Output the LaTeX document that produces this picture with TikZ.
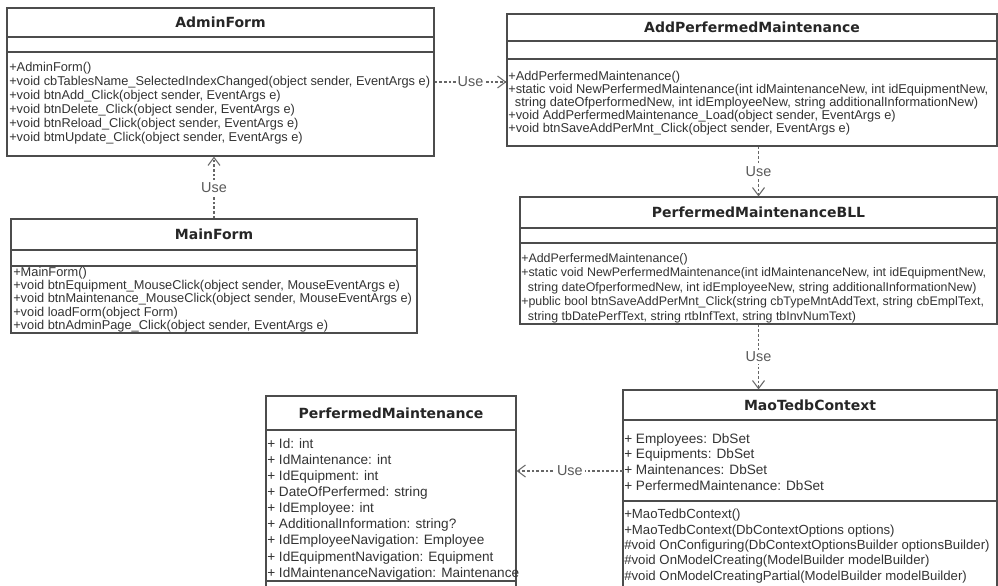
\documentclass[tikz,border=0pt]{standalone}
\usepackage{fontspec}
\setmainfont{Liberation Sans}
\newfontfamily\ttlfont{DejaVu Sans}
\usetikzlibrary{positioning,arrows.meta,fit}

\begin{document}
\begin{tikzpicture}[x=0.75pt,y=-0.75pt,>={Straight Barb[length=6pt,width=9pt]},
 box/.style={draw=black!70,line width=0.9pt,inner sep=0pt},
 ttl/.style={font=\ttlfont\bfseries\fontsize{10.5}{12}\selectfont,text=black!85},
 ops/.style={anchor=north west,align=left,inner sep=0pt,text=black!80,font=\fontsize{9.6}{#1}\selectfont},
 ops/.default=10.5,
 atr/.style={anchor=north west,align=left,inner sep=0pt,text=black!80,font=\fontsize{10.2}{#1}\selectfont},
 use/.style={->,dash pattern=on 2pt off 1.5pt,draw=black!60,line width=0.8pt},
 lbl/.style={fill=white,inner sep=1.5pt,font=\fontsize{10.8}{12}\selectfont,text=black!65}]
\clip (0,0) rectangle (998,585);
\newcommand{\UMLbox}[8]{%
 \node[box,fit={(#2,#3) (#4,#5)}] (#1) {};
 \node[ttl] (#1-t) at ({(#2+#4)/2},{(#3+#6)/2}) {#8};
 \draw[black!70,line width=0.9pt] (#2,#6) -- (#4,#6) (#2,#7) -- (#4,#7);}
% forms
\UMLbox{admin}{7}{8}{434}{156}{37}{52}{AdminForm}
\node[ops] (admin-m) at (9,62) {+AdminForm()\\
 +void cbTablesName\_SelectedIndexChanged(object sender, EventArgs e)\\
 +void btnAdd\_Click(object sender, EventArgs e)\\
 +void btnDelete\_Click(object sender, EventArgs e)\\
 +void btnReload\_Click(object sender, EventArgs e)\\
 +void btmUpdate\_Click(object sender, EventArgs e)};
\UMLbox{mainf}{11}{219}{417}{333}{250}{266}{MainForm}
\node[ops=9.9] (mainf-m) at (13,267) {+MainForm()\\
 +void btnEquipment\_MouseClick(object sender, MouseEventArgs e)\\
 +void btnMaintenance\_MouseClick(object sender, MouseEventArgs e)\\
 +void loadForm(object Form)\\
 +void btnAdminPage\_Click(object sender, EventArgs e)};
\UMLbox{addpm}{507}{14}{997}{146}{41}{59}{AddPerfermedMaintenance}
\node[ops=9.75] (addpm-m) at (508,71) {+AddPerfermedMaintenance()\\
 +static void NewPerfermedMaintenance(int idMaintenanceNew, int idEquipmentNew,\\
 \hspace*{5pt}string dateOfperformedNew, int idEmployeeNew, string additionalInformationNew)\\
 +void AddPerfermedMaintenance\_Load(object sender, EventArgs e)\\
 +void btnSaveAddPerMnt\_Click(object sender, EventArgs e)};
% logic + data
\UMLbox{bll}{520}{197}{997}{324}{228}{243}{PerfermedMaintenanceBLL}
\node[ops=10.9,font=\fontsize{9.3}{10.9}\selectfont] (bll-m) at (521,253) {+AddPerfermedMaintenance()\\
 +static void NewPerfermedMaintenance(int idMaintenanceNew, int idEquipmentNew,\\
 \hspace*{5pt}string dateOfperformedNew, int idEmployeeNew, string additionalInformationNew)\\
 +public bool btnSaveAddPerMnt\_Click(string cbTypeMntAddText, string cbEmplText,\\
 \hspace*{5pt}string tbDatePerfText, string rtbInfText, string tbInvNumText)};
\UMLbox{pm}{266}{396}{516}{640}{430}{581}{PerfermedMaintenance}
\node[atr=12.1] (pm-a) at (267,438) {+ Id: int\\
 + IdMaintenance: int\\
 + IdEquipment: int\\
 + DateOfPerfermed: string\\
 + IdEmployee: int\\
 + AdditionalInformation: string?\\
 + IdEmployeeNavigation: Employee\\
 + IdEquipmentNavigation: Equipment\\
 + IdMaintenanceNavigation: Maintenance};
\UMLbox{mao}{623}{390}{997}{640}{420}{501}{MaoTedbContext}
\node[atr=11.8] (mao-a) at (624,433) {+ Employees: DbSet\\
 + Equipments: DbSet\\
 + Maintenances: DbSet\\
 + PerfermedMaintenance: DbSet};
\node[atr=11.5,font=\fontsize{9.9}{11.5}\selectfont] (mao-m) at (624,509) {+MaoTedbContext()\\
 +MaoTedbContext(DbContextOptions options)\\
 \#void OnConfiguring(DbContextOptionsBuilder optionsBuilder)\\
 \#void OnModelCreating(ModelBuilder modelBuilder)\\
 \#void OnModelCreatingPartial(ModelBuilder modelBuilder)};
\coordinate (mao-use) at (623,471);
% dependencies
\draw[use] (admin.east) -- node[lbl] {Use} (admin.east -| addpm.west);
\draw[use] (mainf.north) -- node[lbl] {Use} (mainf.north |- admin.south);
\draw[use] (bll.north |- addpm.south) -- node[lbl] {Use} (bll.north);
\draw[use] (bll.south) -- node[lbl] {Use} (bll.south |- mao.north);
\draw[use] (mao-use) -- node[lbl] {Use} (mao-use -| pm.east);
\end{tikzpicture}
\end{document}
